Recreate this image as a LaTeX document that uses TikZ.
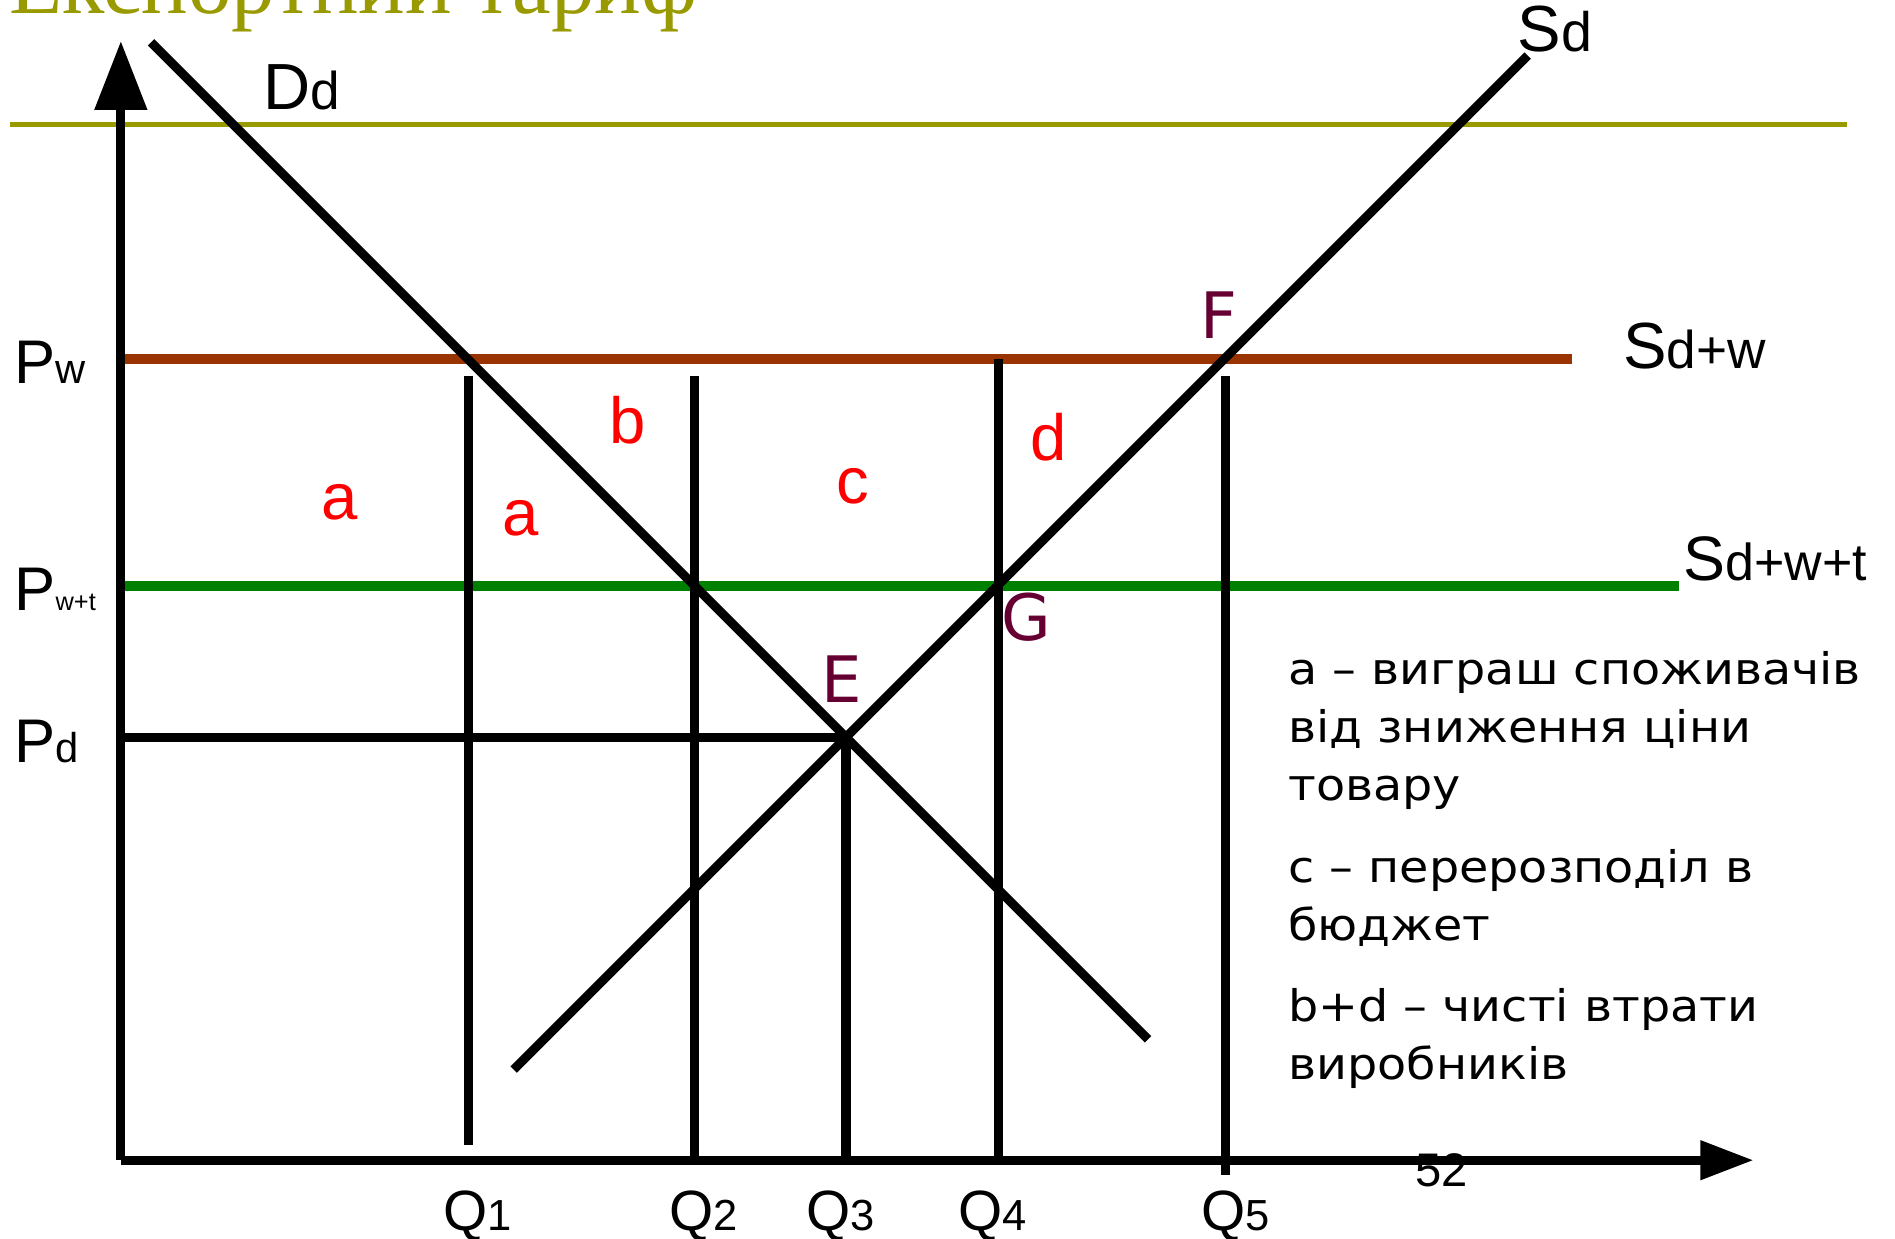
\documentclass[tikz,border=0pt]{standalone}
\usepackage{fontspec}
\setmainfont{Liberation Sans}
\newfontfamily\legfont{DejaVu Sans}[FakeStretch=1.095]
\newfontfamily\ptfont{DejaVu Sans}
\newfontfamily\titlefont{Liberation Serif}
\usetikzlibrary{arrows.meta}
\definecolor{olivet}{RGB}{153,153,0}
\definecolor{brownl}{RGB}{153,51,0}
\definecolor{greenl}{RGB}{0,128,0}
\definecolor{maroonp}{RGB}{102,0,51}
\newcommand\twosz[4]{{\fontsize{#3}{#3}\selectfont #1}{\fontsize{#4}{#4}\selectfont #2}}
\begin{document}
\begin{tikzpicture}[x=1pt,y=-1pt,
  curve/.style={line width=7.5pt,black},
  axisline/.style={line width=7.5pt,black},
  pwline/.style={line width=8pt,brownl},
  pwtline/.style={line width=8pt,greenl},
  lbl/.style={anchor=base west,inner sep=0pt,outer sep=0pt},
  area/.style={lbl,red,font=\fontsize{54}{54}\selectfont},
  pt/.style={lbl,maroonp,font=\ptfont\fontsize{53}{53}\selectfont},
  leg/.style={lbl,font=\legfont\fontsize{36}{36}\selectfont}]
\useasboundingbox (0,0) rectangle (1568,1025);
% title (cut off at top, as in the reference)
\node[lbl,olivet,font=\titlefont\fontsize{72}{72}\selectfont] (title) at (8,11) {Експортний тариф};
% olive rule
\coordinate (ol1) at (8,103);
\coordinate (ol2) at (1528,103);
\draw[olivet,line width=3.5pt] (ol1) -- (ol2);
% key coordinates
\coordinate (O) at (100,960);
\coordinate (ytop) at (100,34);
\coordinate (xend) at (1451,960);
\coordinate (pw0) at (100,297);
\coordinate (pw1) at (1301,297);
\coordinate (pt0) at (100,485);
\coordinate (pt1) at (1389,485);
\coordinate (pd0) at (100,610);
\coordinate (E) at (700,610);
\coordinate (D1) at (125,35);
\coordinate (D2) at (950,860);
\coordinate (S1) at (425,885);
\coordinate (S2) at (1264,46);
% price lines
\draw[pwline] (pw0) -- (pw1);
\draw[pwtline] (pt0) -- (pt1);
\draw[axisline] (pd0) -- (E);
% curves
\draw[curve] (D1) -- (D2);
\draw[curve] (S1) -- (S2);
% verticals
\coordinate (q1t) at (388,311); \coordinate (q1b) at (388,947);
\coordinate (q2t) at (575,311); \coordinate (q2b) at (575,960);
\coordinate (q3t) at (700,610); \coordinate (q3b) at (700,960);
\coordinate (q4t) at (826,297); \coordinate (q4b) at (826,960);
\coordinate (q5t) at (1014,311); \coordinate (q5b) at (1014,972);
\draw[axisline] (q1t) -- (q1b);
\draw[axisline] (q2t) -- (q2b);
\draw[axisline] (q3t) -- (q3b);
\draw[axisline] (q4t) -- (q4b);
\draw[axisline] (q5t) -- (q5b);
% axes
\draw[axisline,-{Triangle[length=57pt,width=42pt]}] (O) -- (ytop);
\draw[axisline,-{Triangle[length=44pt,width=31pt]}] (O) -- (xend);
% curve labels
\node[lbl] (lDd) at (218,91) {\twosz{D}{d}{54}{44}};
\node[lbl] (lSd) at (1256,43) {\twosz{S}{d}{54}{46}};
\node[lbl] (lSdw) at (1343,305) {\twosz{S}{d+w}{54}{44}};
\node[lbl] (lSdwt) at (1393,480) {\twosz{S}{d+w+t}{52}{43}};
% price labels
\node[lbl] (lPw) at (12,317) {\twosz{P}{w}{51}{34.5}};
\node[lbl] (lPwt) at (12,505) {\twosz{P}{w+t}{51}{21}};
\node[lbl] (lPd) at (12,631) {\twosz{P}{d}{51}{34.5}};
% quantity labels
\node[lbl] (lQ1) at (367,1018) {\twosz{Q}{1}{47}{36}};
\node[lbl] (lQ2) at (554,1018) {\twosz{Q}{2}{47}{36}};
\node[lbl] (lQ3) at (667,1018) {\twosz{Q}{3}{47}{36}};
\node[lbl] (lQ4) at (793,1018) {\twosz{Q}{4}{47}{36}};
\node[lbl] (lQ5) at (994,1018) {\twosz{Q}{5}{47}{36}};
% area labels
\node[area] (ra1) at (266,430) {a};
\node[area] (ra2) at (416,443) {a};
\node[area] (rb) at (504,367) {b};
\node[area] (rc) at (692,417) {c};
\node[area] (rd) at (853,381) {d};
% points
\node[pt] (pF) at (993,280) {F};
\node[pt] (pG) at (829,530) {G};
\node[pt] (pE) at (680,581) {E};
% legend
\node[leg] (leg1) at (1066,566) {a – виграш споживачів};
\node[leg] (leg2) at (1066,614) {від зниження ціни};
\node[leg] (leg3) at (1066,662) {товару};
\node[leg] (leg4) at (1066,730) {c – перерозподіл в};
\node[leg] (leg5) at (1066,778) {бюджет};
\node[leg] (leg6) at (1066,845) {b+d – чисті втрати};
\node[leg] (leg7) at (1066,893) {виробників};
% page number
\node[lbl,font=\fontsize{39}{39}\selectfont] (pnum) at (1171,982) {52};
\end{tikzpicture}
\end{document}
